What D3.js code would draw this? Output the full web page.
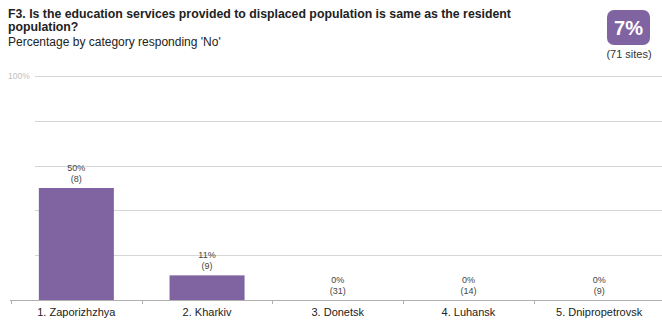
<!DOCTYPE html>
<html><head><meta charset="utf-8">
<script src="https://cdn.jsdelivr.net/npm/d3@7"></script>
<style>body{margin:0;background:#fff}svg{display:block;font-family:Arial,"Liberation Sans",sans-serif}</style>
</head><body><svg id="c" width="662" height="320"></svg>
<script>
const categories = ["1. Zaporizhzhya","2. Kharkiv","3. Donetsk","4. Luhansk","5. Dnipropetrovsk"];
const values = [50, 11, 0, 0, 0];
const counts = [8, 9, 31, 14, 9];
const yTicks = [0, 20, 40, 60, 80, 100];
const titleLines = ["F3. Is the education services provided to displaced population is same as the resident","population?"];
const subtitle = "Percentage by category responding 'No'";
const badgeValue = "7%";
const badgeSites = "(71 sites)";

const svg = d3.select("#c");
const x = d3.scaleBand().domain(categories).range([11, 664.5]).paddingInner(0.426).paddingOuter(0.213);
const y = d3.scaleLinear().domain([0, 100]).range([300, 76]);

// gridlines
svg.append("g").selectAll("line").data(yTicks.filter(d => d > 0)).join("line")
  .attr("x1", 35).attr("x2", 662).attr("y1", d => Math.round(y(d)) + 0.5).attr("y2", d => Math.round(y(d)) + 0.5)
  .attr("stroke", "#d6d6d6").attr("stroke-width", 1);
svg.append("text").attr("x", 8).attr("y", y(100) + 3).attr("font-size", 8.5).attr("fill", "#c0c0c0").text("100%");

// bars
svg.append("g").selectAll("rect").data(values).join("rect")
  .attr("x", (d, i) => x(categories[i])).attr("width", x.bandwidth())
  .attr("y", d => y(d)).attr("height", d => y(0) - y(d))
  .attr("fill", "#8064a2");

// value labels
const lab = svg.append("g").attr("font-size", 9).attr("fill", "#444").attr("text-anchor", "middle");
values.forEach((v, i) => {
  const cx = x(categories[i]) + x.bandwidth() / 2;
  lab.append("text").attr("x", cx).attr("y", y(v) - 17.5).text(v + "%");
  lab.append("text").attr("x", cx).attr("y", y(v) - 6).text("(" + counts[i] + ")");
});

// x axis
const ax = svg.append("g");
ax.append("line").attr("x1", 10).attr("x2", 662).attr("y1", 300.5).attr("y2", 300.5).attr("stroke", "#b0b0b0");
categories.forEach((c, i) => {
  const tx = Math.round(x(c) - (x.step() - x.bandwidth()) / 2) + 0.5;
  ax.append("line").attr("x1", tx).attr("x2", tx).attr("y1", 300).attr("y2", 304).attr("stroke", "#b0b0b0");
  ax.append("text").attr("x", x(c) + x.bandwidth() / 2).attr("y", 316).attr("text-anchor", "middle")
    .attr("font-size", 11).attr("fill", "#222").text(c);
});

// title
const title = svg.append("g").attr("font-size", 12.3).attr("font-weight", "bold").attr("fill", "#222");
titleLines.forEach((t, i) => title.append("text").attr("x", 8).attr("y", 18 + i * 12.5).text(t));
svg.append("text").attr("x", 8).attr("y", 45.5).attr("font-size", 12).attr("fill", "#222").text(subtitle);

// badge
svg.append("rect").attr("x", 607).attr("y", 10).attr("width", 43).attr("height", 35).attr("rx", 7).attr("fill", "#8064a2");
svg.append("text").attr("x", 628.5).attr("y", 34.5).attr("text-anchor", "middle").attr("font-size", 20)
  .attr("font-weight", "bold").attr("fill", "#fff").text(badgeValue);
svg.append("text").attr("x", 629).attr("y", 58).attr("text-anchor", "middle").attr("font-size", 11)
  .attr("fill", "#333").text(badgeSites);
</script></body></html>
